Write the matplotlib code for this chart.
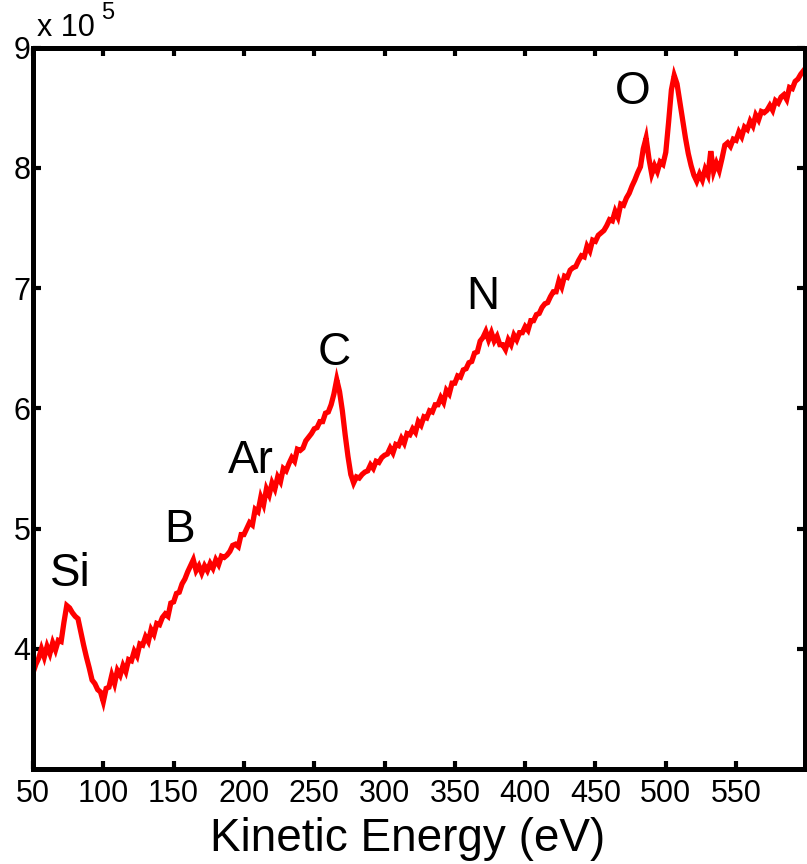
import numpy as np
import matplotlib
matplotlib.use("Agg")
import matplotlib.pyplot as plt

plt.rcParams['font.family'] = ['Liberation Sans', 'DejaVu Sans']

# Auger survey spectrum, sampled every 2 eV from 50 to 598 eV (counts / 1e5)
energy_ev = np.arange(50, 600, 2)
counts_1e5 = [
    3.80, 3.87, 3.92, 4.00, 3.93, 4.02, 3.96, 4.05, 3.99, 4.07,
    4.06, 4.22, 4.36, 4.34, 4.30, 4.27, 4.25, 4.14, 4.03, 3.93,
    3.84, 3.74, 3.71, 3.66, 3.64, 3.56, 3.67, 3.68, 3.78, 3.71,
    3.82, 3.78, 3.86, 3.81, 3.91, 3.90, 3.98, 3.94, 4.04, 4.03,
    4.10, 4.06, 4.16, 4.12, 4.21, 4.20, 4.26, 4.29, 4.27, 4.38,
    4.39, 4.46, 4.47, 4.54, 4.58, 4.64, 4.69, 4.74, 4.65, 4.69,
    4.63, 4.69, 4.65, 4.71, 4.67, 4.74, 4.70, 4.77, 4.76, 4.78,
    4.81, 4.86, 4.87, 4.85, 4.95, 4.95, 5.00, 5.05, 5.03, 5.16,
    5.14, 5.26, 5.20, 5.33, 5.28, 5.38, 5.33, 5.43, 5.39, 5.50,
    5.48, 5.54, 5.59, 5.56, 5.66, 5.65, 5.67, 5.73, 5.76, 5.79,
    5.83, 5.84, 5.89, 5.89, 5.96, 5.97, 6.03, 6.12, 6.24, 6.14,
    5.98, 5.78, 5.60, 5.45, 5.38, 5.43, 5.42, 5.45, 5.47, 5.48,
    5.53, 5.50, 5.56, 5.55, 5.59, 5.61, 5.62, 5.67, 5.63, 5.70,
    5.69, 5.75, 5.71, 5.79, 5.78, 5.83, 5.80, 5.89, 5.86, 5.93,
    5.92, 5.98, 5.97, 6.03, 6.03, 6.09, 6.05, 6.15, 6.12, 6.21,
    6.21, 6.27, 6.26, 6.32, 6.33, 6.38, 6.39, 6.46, 6.47, 6.56,
    6.59, 6.64, 6.57, 6.63, 6.56, 6.60, 6.53, 6.53, 6.49, 6.57,
    6.53, 6.61, 6.57, 6.63, 6.63, 6.68, 6.65, 6.73, 6.73, 6.78,
    6.79, 6.84, 6.87, 6.88, 6.93, 6.97, 6.97, 7.06, 7.01, 7.10,
    7.09, 7.15, 7.17, 7.18, 7.23, 7.27, 7.26, 7.35, 7.31, 7.40,
    7.39, 7.44, 7.46, 7.48, 7.52, 7.57, 7.56, 7.64, 7.59, 7.70,
    7.69, 7.75, 7.79, 7.85, 7.90, 7.96, 8.01, 8.16, 8.25, 8.08,
    7.95, 8.02, 7.97, 8.05, 8.03, 8.13, 8.38, 8.65, 8.77, 8.70,
    8.55, 8.40, 8.25, 8.12, 8.02, 7.94, 7.89, 7.95, 7.90, 7.99,
    7.94, 8.14, 7.97, 8.04, 7.98, 8.08, 8.19, 8.21, 8.18, 8.24,
    8.23, 8.30, 8.26, 8.34, 8.32, 8.39, 8.35, 8.44, 8.40, 8.47,
    8.46, 8.48, 8.52, 8.48, 8.56, 8.54, 8.59, 8.61, 8.57, 8.67,
    8.66, 8.72, 8.74, 8.78, 8.81,
]

# Element labels and where they sit
peak_names = ["Si", "B", "Ar", "C", "N", "O"]
peak_x = [76.5, 154, 204.6, 264.4, 369.7, 476.5]
peak_y = [4.62, 4.99, 5.56, 6.46, 6.93, 8.63]

x_ticks = [50, 100, 150, 200, 250, 300, 350, 400, 450, 500, 550]
y_ticks = [4, 5, 6, 7, 8, 9]

fig = plt.figure(figsize=(8.07, 8.64), dpi=100)
ax = fig.add_axes([0.0409, 0.110, 0.9566, 0.8347])

ax.plot(energy_ev, counts_1e5, color="#ff0000", lw=3.8, solid_joinstyle="miter")

for name, px, py in zip(peak_names, peak_x, peak_y):
    ax.text(px, py, name, fontsize=33, ha="center", va="center", color="black")

ax.set_xlim(50, 599)
ax.set_ylim(3, 9)
ax.set_xticks(x_ticks)
ax.set_yticks(y_ticks)
ax.set_xticklabels([str(v) for v in x_ticks])
ax.set_yticklabels([str(v) for v in y_ticks])

for sp in ax.spines.values():
    sp.set_linewidth(3.6)
ax.tick_params(axis="both", which="major", direction="in", length=6, width=3,
               top=True, right=True, labelsize=22, pad=2)
ax.tick_params(axis="x", pad=7)

ax.set_xlabel("Kinetic Energy (eV)", fontsize=33)
ax.xaxis.set_label_coords(0.485, -0.066)

# Exponent marker above the y axis
ax.text(0.005, 1.006, "x 10", transform=ax.transAxes, fontsize=22,
        ha="left", va="bottom")
ax.text(0.088, 1.033, "5", transform=ax.transAxes, fontsize=17,
        ha="left", va="bottom")

fig.savefig("out.png", dpi=100)
